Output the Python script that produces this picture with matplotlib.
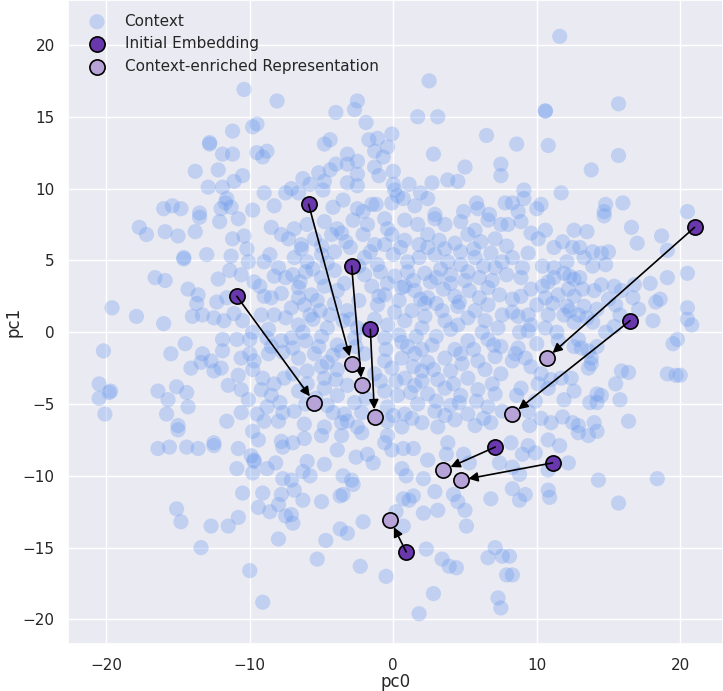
import matplotlib
matplotlib.use("Agg")
import matplotlib.pyplot as plt
import seaborn as sns

# --- data ---
# initial embeddings (arrow tails) and context-enriched representations (arrow heads)
init_x = [-10.9, -5.9, -2.9, -1.6, 0.9, 7.1, 11.1, 16.5, 21.0]
init_y = [2.5, 8.9, 4.6, 0.2, -15.3, -8.0, -9.1, 0.8, 7.3]
enr_x = [-5.5, -2.9, -2.2, -1.3, -0.2, 3.5, 4.7, 8.3, 10.7]
enr_y = [-4.9, -2.2, -3.7, -5.9, -13.1, -9.6, -10.3, -5.7, -1.8]

# context points, grouped roughly by area of the plot
ctx_top_left = [
    (-10.4, 16.9), (-8.1, 16.1), (-9.5, 14.5), (-9.8, 14.3), (-11.2, 14.0), (-12.8, 13.2),
    (-12.8, 13.1), (-11.9, 12.4), (-11.2, 12.4), (-9.5, 12.5), (-8.8, 12.6), (-9.1, 12.2),
    (-13.8, 11.2), (-12.2, 11.3), (-10.5, 10.9), (-11.1, 10.5), (-12.9, 10.1), (-11.9, 10.1),
    (-9.0, 9.7), (-7.5, 9.7), (-11.6, 9.3), (-11.7, 9.0), (-16.0, 8.6), (-15.4, 8.8),
    (-14.8, 8.6), (-13.5, 8.3), (-12.0, 8.6), (-11.3, 8.7), (-9.8, 8.5), (-8.3, 8.8),
]
ctx_top_mid = [
    (2.5, 17.5), (-2.5, 16.1), (-4.0, 15.3), (-2.7, 15.5), (1.7, 15.0), (3.1, 15.0), (-1.9, 14.6),
    (6.5, 13.7), (-4.4, 13.4), (-4.8, 13.1), (-1.7, 13.4), (-1.1, 13.5), (-0.1, 13.8), (-0.4, 12.9),
    (-1.3, 12.6), (2.8, 12.4), (-0.7, 12.2), (-3.2, 12.4), (-2.5, 11.9), (-3.2, 11.7), (-4.0, 11.7),
    (7.5, 11.7), (5.0, 11.5), (7.5, 10.9), (-1.3, 11.5), (0.0, 11.2), (-5.2, 11.1), (-4.4, 11.3),
    (-2.5, 11.0), (-1.0, 10.9), (1.1, 10.3), (2.7, 10.4), (3.8, 10.6), (4.5, 10.5), (-6.3, 10.7),
    (-5.8, 10.3), (-4.8, 10.5), (-3.2, 10.4), (-2.5, 10.2), (0.0, 10.3), (0.1, 9.9), (1.9, 9.7),
    (2.4, 9.3), (-7.1, 10.0), (-6.6, 9.7), (-4.9, 9.9), (-3.5, 9.2), (0.3, 9.5), (0.7, 9.3),
    (-0.1, 9.0), (1.5, 8.8), (-1.5, 8.9), (-1.2, 8.9), (-4.2, 8.7), (5.8, 9.0), (4.9, 8.4),
    (5.9, 8.6), (6.7, 8.2), (7.8, 9.0), (2.9, 8.2), (-2.5, 8.6), (-2.1, 8.4),
]
ctx_top_right = [
    (11.6, 20.6), (15.7, 15.9), (10.6, 15.4), (10.6, 15.4), (8.6, 13.1), (10.8, 13.0), (15.7, 12.3),
    (13.8, 11.3), (9.1, 9.9), (9.1, 9.3), (8.3, 9.0), (10.3, 8.9), (10.0, 8.6), (11.7, 9.7),
    (14.8, 8.9), (16.0, 9.0), (14.7, 8.4), (20.5, 8.4), (8.7, 8.4),
]
ctx_mid_left = [
    (-17.7, 7.3), (-17.2, 6.8), (-15.9, 7.0), (-15.0, 6.7), (-13.8, 7.0), (-13.5, 8.0), (-12.1, 7.7),
    (-10.8, 7.9), (-11.2, 6.5), (-10.4, 6.7), (-8.5, 7.3), (-7.8, 6.8), (-14.6, 5.2), (-14.6, 5.1),
    (-13.0, 5.4), (-11.3, 5.3), (-10.2, 5.8), (-10.1, 4.9), (-9.0, 4.9), (-11.4, 4.3), (-16.6, 3.8),
    (-15.9, 3.6), (-12.2, 3.7), (-10.6, 4.0), (-9.7, 3.5), (-9.3, 3.2), (-8.3, 3.9), (-7.5, 3.8),
    (-14.3, 3.0), (-13.6, 2.6), (-13.7, 2.0), (-12.3, 2.1), (-11.6, 2.4), (-19.6, 1.7), (-17.9, 1.1),
    (-16.0, 0.6), (-14.0, 1.1), (-13.3, 1.2), (-12.5, 1.0), (-11.8, 0.8), (-11.1, 1.3), (-10.5, 0.8),
    (-9.2, 1.2), (-8.5, 2.4), (-7.8, 2.7), (-8.3, 1.2), (-7.5, 1.0), (-14.5, -0.8), (-15.5, -1.5),
    (-20.2, -1.3), (-11.9, -0.5), (-10.9, -0.5), (-10.0, -0.5), (-9.8, 0.0), (-8.7, 0.2), (-7.8, -0.6),
    (-11.9, -1.3), (-13.3, -1.5), (-13.4, -2.1), (-12.7, -2.0), (-12.0, -2.5), (-14.1, -2.5),
    (-12.5, -2.7), (-10.6, -1.8), (-10.0, -1.5), (-9.7, -2.0), (-8.7, -1.5), (-8.5, -1.0), (-9.8, -2.6),
    (-9.1, -3.2), (-8.3, -3.6), (-7.6, -3.2), (-11.5, -3.7), (-10.6, -4.0), (-10.1, -4.7), (-8.5, -4.4),
    (-7.9, -4.9), (-20.5, -3.6), (-20.5, -4.6), (-19.8, -4.2), (-19.7, -4.1), (-20.1, -5.7),
    (-16.4, -4.1), (-15.7, -4.7), (-15.1, -3.8), (-14.4, -4.2), (-14.3, -5.2), (-15.8, -5.7),
    (-15.0, -6.5), (-11.6, -6.2), (-10.6, -5.6), (-9.5, -5.7), (-9.0, -6.2), (-8.0, -6.2), (-7.7, -5.6),
    (-7.7, -1.4), (-8.6, 5.4), (-8.0, 4.5), (-9.0, 2.5), (-8.8, -0.4), (-9.2, -4.0), (-8.8, -5.2),
    (-10.8, -3.0),
]
ctx_center = [
    (-6.9, 7.2), (-6.0, 7.5), (-4.8, 7.7), (-3.9, 7.2), (-2.8, 7.8), (-1.8, 7.5), (-0.6, 7.9), (-0.4, 7.2),
    (0.8, 7.8), (1.7, 7.5), (2.9, 7.9), (3.6, 7.5), (4.7, 7.7), (5.7, 7.1), (6.6, 7.8), (7.5, 7.5),
    (-7.3, 6.5), (-6.4, 6.1), (-5.5, 6.5), (-4.3, 6.8), (-3.3, 6.3), (-2.1, 6.8), (-1.3, 6.1), (-0.1, 6.8),
    (0.8, 6.4), (1.8, 6.1), (2.4, 5.9), (3.2, 6.4), (4.3, 6.2), (5.2, 6.8), (6.1, 6.3), (7.1, 6.5), (7.9, 6.0),
    (-6.9, 5.2), (-6.0, 4.9), (-5.0, 5.4), (-4.1, 5.6), (-2.0, 5.2), (-1.1, 4.7), (0.0, 5.4), (1.0, 4.9),
    (1.8, 5.2), (2.9, 5.4), (3.8, 4.9), (4.7, 4.7), (5.7, 5.2), (6.8, 5.5), (7.6, 4.9),
    (-7.0, 4.0), (-6.1, 4.2), (-5.0, 3.8), (-4.1, 4.3), (-2.0, 4.0), (-0.9, 4.2), (0.1, 3.9), (1.0, 4.2),
    (2.2, 4.1), (3.0, 3.8), (4.0, 4.0), (5.2, 4.2), (6.0, 3.8), (7.1, 4.5), (7.9, 4.0),
    (-6.6, 3.1), (-5.7, 2.6), (-4.8, 3.2), (-3.9, 2.9), (-1.5, 3.2), (-0.6, 2.6), (0.6, 3.1), (1.5, 2.9),
    (2.4, 2.4), (3.5, 3.0), (4.3, 2.5), (5.3, 2.9), (6.6, 3.1), (7.4, 2.6),
    (-7.1, 1.7), (-6.2, 1.9), (-5.1, 1.5), (-4.1, 2.0), (-3.2, 1.5), (-1.1, 1.9), (0.1, 1.4), (1.3, 1.5),
    (2.2, 2.0), (3.4, 1.5), (4.5, 1.8), (5.7, 1.5), (6.6, 1.9), (7.6, 1.2),
    (-6.6, 0.5), (-5.6, 0.9), (-4.6, 0.3), (-3.5, 0.8), (-2.5, 0.3), (-0.4, 0.5), (0.8, 0.8), (2.0, 0.3),
    (3.6, 0.8), (4.5, 0.5), (6.4, 0.8), (7.3, 0.3),
    (-7.1, -0.4), (-6.1, -0.6), (-5.0, -0.3), (-3.9, -0.9), (-2.7, -0.4), (-0.6, -0.4), (0.6, -0.7),
    (1.6, -0.3), (2.7, -0.9), (4.3, -1.2), (5.2, -0.6), (6.6, -0.5), (7.5, -1.0),
    (-6.6, -1.8), (-5.5, -1.5), (-4.6, -2.1), (-3.6, -1.3), (-2.0, -1.5), (-0.6, -2.0), (0.6, -1.8),
    (1.5, -1.5), (2.4, -2.1), (3.6, -1.8), (4.7, -1.5), (5.9, -2.0), (7.1, -1.7),
    (-7.0, -2.9), (-6.0, -2.7), (-4.8, -3.2), (-3.9, -2.6), (-1.3, -2.9), (-0.1, -2.5), (0.8, -3.2),
    (2.0, -2.7), (3.1, -3.3), (4.0, -2.7), (5.2, -3.2), (6.4, -2.6), (7.5, -2.9),
    (-6.6, -4.1), (-4.8, -3.9), (-3.9, -4.4), (-3.2, -3.7), (-0.6, -4.1), (0.3, -4.4), (1.5, -3.7),
    (2.4, -4.3), (3.6, -3.9), (4.7, -4.4), (5.9, -4.0), (7.1, -4.3),
    (-6.9, -5.5), (-4.6, -5.1), (-3.4, -5.7), (-2.7, -4.9), (-0.4, -5.2), (0.8, -5.7), (1.7, -5.0),
    (2.9, -5.5), (4.0, -5.1), (5.2, -5.7), (6.6, -5.2), (7.6, -5.5),
    (-6.2, -6.4), (-4.8, -6.6), (-3.6, -6.3), (-2.5, -6.6), (-0.4, -6.2), (0.6, -6.6), (2.0, -6.3),
    (3.1, -6.6), (4.3, -6.1), (5.7, -6.5), (6.8, -6.3),
]
# second, denser layer of the centre cloud
ctx_center_dense = [
    (-6.4, 5.8), (-5.6, 4.4), (-6.5, 3.5), (-5.3, 2.2), (-6.6, 2.4), (-5.8, 1.2), (-4.6, 4.8), (-4.4, 1.2),
    (-3.4, 3.4), (-3.0, 5.9), (-2.4, 2.2), (-1.6, 5.6), (-0.4, 3.4), (0.4, 2.2), (0.5, 5.9), (1.4, 3.6),
    (1.9, 2.3), (2.6, 3.5), (3.0, 2.0), (3.3, 4.4), (4.0, 3.4), (4.6, 2.1), (5.0, 3.6), (5.6, 5.8),
    (6.3, 4.6), (6.9, 3.6), (4.7, 5.6), (3.6, 5.8), (2.4, 6.8), (-0.6, 6.1), (-3.6, 6.9), (-5.0, 6.0),
    (-1.3, 0.9), (0.4, -0.2), (1.0, -1.0), (2.0, -1.2), (3.0, -0.3), (2.8, -2.6), (1.4, -2.4), (0.2, -3.4),
    (1.2, -4.2), (2.0, -3.4), (3.0, -4.8), (4.2, -3.6), (4.8, -2.2), (5.6, -1.2), (6.2, 0.0), (6.9, -3.6),
    (5.8, -4.8), (6.3, -6.0), (-5.2, -1.0), (-4.2, -1.6), (-6.0, -3.6), (-5.4, -4.6), (-4.2, -5.6),
    (-6.1, -5.0), (-5.0, -2.4), (-2.6, -1.0), (-3.0, 0.9), (-1.8, 0.2), (-0.5, -1.2), (-1.9, -4.6),
    (-0.9, -3.4), (0.0, -5.8), (1.3, -6.0), (3.6, -5.8), (4.6, -4.9), (2.2, 1.1), (4.0, 0.2), (5.2, 1.0),
    (-7.0, -1.1), (-6.3, 0.0), (7.0, -0.9), (6.0, 2.4), (-2.4, 4.6), (-4.0, -3.3), (-2.2, -5.6),
    (-3.2, -6.2), (0.8, 3.2), (-1.0, 2.5),
]
ctx_mid_right = [
    (16.6, 7.3), (18.7, 6.7), (17.0, 6.2), (19.1, 5.7), (20.5, 4.1), (19.1, 3.8), (17.9, 3.4), (18.6, 2.3),
    (18.3, 2.1), (20.5, 1.7), (20.5, 0.9), (20.8, 0.5), (18.1, 0.8), (19.8, -0.5), (19.5, -0.8),
    (19.1, -2.9), (19.7, -3.0), (20.0, -3.0), (15.9, -2.7), (16.4, -2.8), (15.5, -3.6), (16.4, -6.2),
    (15.8, -4.7), (14.2, -4.3), (14.5, -4.4), (13.7, -4.9), (14.2, -4.9), (14.0, -6.3), (12.9, -6.5),
    (11.8, -5.9), (12.5, -6.3), (11.0, -6.3), (10.3, -6.0), (9.5, -6.5), (11.9, -4.7), (12.6, -4.1),
    (12.4, -3.2), (11.7, -3.2), (13.6, -2.5), (13.8, -2.2), (11.0, -3.3), (10.1, -3.6), (10.8, -3.9),
    (9.9, -4.8), (8.9, -3.9), (8.6, -4.4), (9.4, -5.5), (10.3, -2.9), (9.6, -2.4), (8.5, -1.5),
    (8.7, -1.1), (8.3, -2.0), (9.4, 0.1), (8.8, 0.0), (9.6, 0.5), (10.6, 0.3), (11.4, 0.0), (11.5, -0.6),
    (12.9, -0.5), (13.1, -1.1), (12.6, -1.0), (13.8, -1.8), (13.6, -1.3), (14.2, -1.0), (14.8, 0.0),
    (15.4, 0.4), (13.9, 0.7), (13.5, 1.0), (12.6, 0.7), (11.9, 1.2), (12.3, 1.5), (12.9, 1.2), (13.3, 1.8),
    (14.2, 1.6), (15.0, 2.3), (15.5, 1.9), (15.8, 1.2), (15.9, 2.9), (16.8, 3.3), (16.7, 2.4), (17.1, 1.6),
    (15.4, 3.2), (14.8, 4.7), (15.0, 5.6), (14.5, 5.5), (13.9, 4.6), (14.5, 3.3), (13.2, 3.0), (14.0, 2.9),
    (12.6, 2.5), (12.1, 1.8), (11.5, 2.6), (11.1, 2.0), (10.8, 1.2), (12.2, 3.0), (13.0, 3.8), (12.6, 3.7),
    (12.3, 3.9), (11.9, 4.1), (11.2, 3.8), (10.8, 3.5), (10.4, 3.2), (10.6, 2.4), (10.0, 1.9), (9.4, 1.2),
    (8.7, 1.1), (8.3, 1.4), (8.9, 2.5), (8.3, 2.3), (13.3, 5.2), (13.9, 5.6), (13.0, 5.9), (12.1, 4.9),
    (11.2, 4.5), (12.5, 5.9), (11.8, 6.3), (11.2, 5.9), (10.6, 7.1), (10.1, 6.5), (9.4, 5.5), (8.3, 5.2),
    (8.9, 3.8), (12.6, 7.1), (13.5, 7.0), (14.7, 8.1), (8.0, 7.5), (8.9, 7.7), (9.0, 4.5), (9.6, 3.0),
    (10.0, -0.8), (9.2, -1.8), (10.4, 4.6), (9.6, 6.9),
]
ctx_bottom_left = [
    (-15.0, -6.8), (-16.4, -8.1), (-15.6, -8.0), (-14.4, -8.0), (-13.6, -8.1), (-12.5, -7.7), (-12.5, -7.9),
    (-10.8, -8.1), (-9.9, -8.6), (-9.7, -8.9), (-9.7, -9.0), (-10.9, -9.5), (-9.8, -9.8), (-8.8, -9.5),
    (-8.2, -9.1), (-9.4, -7.5), (-9.8, -6.9), (-7.8, -7.6), (-7.7, -8.0), (-7.7, -10.2), (-10.5, -11.2),
    (-9.1, -11.2), (-7.8, -11.3), (-9.4, -12.2), (-8.6, -12.5), (-8.0, -12.0), (-15.1, -12.3),
    (-14.8, -13.2), (-12.7, -13.5), (-11.5, -13.5), (-10.8, -12.9), (-7.5, -12.8), (-8.0, -14.4),
    (-13.4, -15.0), (-10.0, -16.6), (-9.1, -18.8),
]
ctx_bottom_mid = [
    (-7.0, -7.7), (-6.2, -7.4), (-5.0, -7.2), (-3.6, -7.2), (-2.2, -7.0), (-3.9, -8.2), (-2.6, -8.7),
    (-1.8, -8.5), (-1.4, -9.1), (-4.8, -9.2), (-6.0, -9.0), (-6.3, -9.7), (-5.8, -10.0), (-7.1, -10.3),
    (-6.9, -11.0), (-3.5, -10.0), (-2.9, -10.3), (-2.8, -10.6), (-3.5, -11.3), (-3.7, -11.4),
    (-6.3, -11.7), (-5.0, -11.8), (-7.1, -12.7), (-7.0, -13.3), (-2.1, -13.2), (-3.7, -13.7),
    (-3.2, -14.0), (-4.7, -14.5), (-5.3, -15.8), (-2.3, -16.3), (-0.5, -17.0), (-0.4, -7.2), (-0.6, -7.7),
    (-0.1, -8.2), (0.7, -8.1), (1.4, -8.1), (0.6, -9.5), (0.9, -10.0), (2.1, -10.2), (2.4, -8.9),
    (3.8, -7.7), (3.7, -8.5), (4.9, -8.5), (5.3, -9.1), (2.9, -11.1), (0.7, -11.6), (1.1, -11.7),
    (1.4, -11.4), (2.1, -12.6), (3.1, -12.4), (4.2, -11.3), (4.5, -11.8), (5.0, -12.4), (5.1, -13.5),
    (6.8, -11.6), (7.4, -9.1), (0.7, -13.5), (0.2, -12.5), (2.3, -15.1), (3.4, -15.8), (3.9, -16.3),
    (4.4, -16.4), (2.8, -18.2), (1.8, -19.6), (7.1, -15.0), (6.6, -15.7), (7.6, -15.6), (7.3, -18.5),
    (7.5, -19.2), (7.9, -16.9),
]
ctx_bottom_right = [
    (8.2, -7.7), (9.4, -7.9), (9.0, -8.5), (9.9, -8.4), (10.8, -7.5), (11.6, -7.9), (12.9, -7.0),
    (13.6, -7.2), (14.2, -6.9), (12.2, -9.1), (8.3, -9.4), (8.8, -9.9), (10.8, -9.6), (8.3, -10.9),
    (9.2, -11.3), (8.8, -11.7), (10.8, -11.0), (10.9, -11.5), (14.3, -10.3), (18.4, -10.2), (15.7, -11.9),
    (8.1, -15.6), (8.3, -16.9),
]

context = (ctx_top_left + ctx_top_mid + ctx_top_right + ctx_mid_left + ctx_center
           + ctx_center_dense + ctx_mid_right + ctx_bottom_left + ctx_bottom_mid + ctx_bottom_right)
ctx_x = [p[0] for p in context]
ctx_y = [p[1] for p in context]

# --- plot ---
sns.set_theme(style="darkgrid")

fig = plt.figure(figsize=(7.23, 6.91), dpi=100)
ax = fig.add_axes([68 / 723, 47 / 691, 655 / 723, 644 / 691])

ax.scatter(ctx_x, ctx_y, s=120, color="cornflowerblue", alpha=0.3, edgecolors="none",
           label="Context", zorder=1)
ax.scatter(init_x, init_y, s=120, color="#6a38ad", edgecolors="black", linewidths=1.2,
           label="Initial Embedding", zorder=2)
ax.scatter(enr_x, enr_y, s=120, color="#b8a3d8", edgecolors="black", linewidths=1.2,
           label="Context-enriched Representation", zorder=4)

for x0, y0, x1, y1 in zip(init_x, init_y, enr_x, enr_y):
    ax.annotate("", xy=(x1, y1), xytext=(x0, y0), zorder=3,
                arrowprops=dict(arrowstyle="-|>", color="black", lw=1.2,
                                shrinkA=0, shrinkB=5.5, mutation_scale=14))

ax.set_xlim(-22.67, 22.98)
ax.set_ylim(-21.71, 23.13)
ax.set_xticks([-20, -10, 0, 10, 20])
ax.set_yticks([-20, -15, -10, -5, 0, 5, 10, 15, 20])
ax.tick_params(axis="x", pad=4)
ax.set_xlabel("pc0", labelpad=0)
ax.set_ylabel("pc1", labelpad=0)
ax.legend(loc="upper left", frameon=False)

fig.savefig("out.png", dpi=100)
